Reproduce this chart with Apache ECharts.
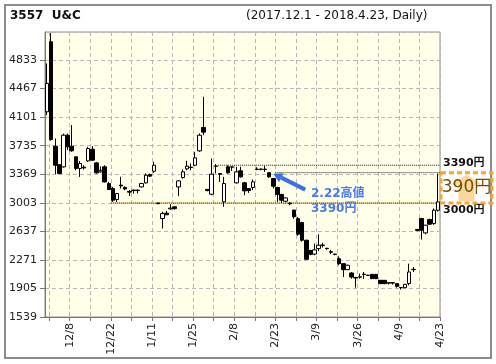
<!DOCTYPE html>
<html><head><meta charset="utf-8">
<script src="https://cdn.jsdelivr.net/npm/echarts@6/dist/echarts.min.js"></script>
<style>html,body{margin:0;padding:0;background:#fff}#c{width:496px;height:364px}</style>
</head><body><div id="c"></div>
<script>
// ---- data ----
const dates = ['12/1','12/4','12/5','12/6','12/7','12/8','12/11','12/12','12/13','12/14','12/15','12/18','12/19','12/20','12/21','12/22','12/25','12/26','12/27','12/28','12/29',
 '1/4','1/5','1/9','1/10','1/11','1/12','1/15','1/16','1/17','1/18','1/19','1/22','1/23','1/24','1/25','1/26','1/29','1/30','1/31',
 '2/1','2/2','2/5','2/6','2/7','2/8','2/9','2/13','2/14','2/15','2/16','2/19','2/20','2/21','2/22','2/23','2/26','2/27','2/28',
 '3/1','3/2','3/5','3/6','3/7','3/8','3/9','3/12','3/13','3/14','3/15','3/16','3/19','3/20','3/22','3/23','3/26','3/27','3/28','3/29','3/30',
 '4/2','4/3','4/4','4/5','4/6','4/9','4/10','4/11','4/12','4/13','4/16','4/17','4/18','4/19','4/20','4/23'];
const opens  = [4170,5068,3729,3490,3464,3870,3729,3592,3443,3460,3541,3690,3515,3400,3464,3250,3186,3045,3230,3200,3150,
 3165,3165,3207,3259,3366,3408,3000,2801,2870,2925,2951,3207,3327,3438,3455,3485,3669,3969,3175,
 3113,3470,3378,3015,3464,3460,3259,3413,3259,3186,3199,3430,3432,3430,3390,3314,3199,3109,3024,
 3000,2910,2800,2750,2523,2390,2345,2416,2462,2420,2376,2345,2287,2223,2146,2103,2045,2050,2084,2075,2086,
 2086,2009,2009,1978,1978,1967,1918,1915,1967,2146,2660,2801,2617,2789,2737,2908];
const closes = [4534,3815,3485,3378,3870,3721,3670,3443,3507,3450,3699,3550,3387,3420,3271,3173,3036,3122,3220,3180,3140,
 3160,3160,3250,3357,3345,3485,2992,2865,2850,2935,2929,3284,3400,3473,3460,3580,3870,3909,3160,
 3370,3475,3368,3250,3387,3464,3400,3336,3156,3160,3272,3435,3436,3435,3336,3216,3109,3036,3066,
 2990,2825,2600,2523,2279,2343,2400,2459,2456,2416,2370,2340,2223,2146,2202,2052,2040,2054,2088,2072,2031,
 2031,1967,1967,1975,1975,1932,1915,1958,2116,2150,2650,2652,2716,2729,2908,3015];
const lows   = [4127,3798,3370,3370,3455,3680,3657,3420,3335,3430,3528,3541,3378,3390,3265,3170,3015,3015,3186,3165,3090,
 3120,3125,3200,3250,3335,3387,2985,2673,2845,2915,2915,3088,3314,3421,3421,3473,3657,3870,3150,
 3100,3380,3271,2951,3378,3413,3250,3327,3100,3130,3165,3420,3420,3400,3323,3186,3015,3000,3010,
 2972,2800,2580,2505,2270,2330,2330,2386,2430,2400,2345,2330,2202,2052,2140,2030,1915,2030,2030,2065,2025,
 2025,1960,1960,1955,1955,1915,1890,1910,1945,2116,2640,2532,2600,2720,2720,2890];
const highs  = [4790,5180,3828,3500,3890,3890,4000,3600,3540,3485,3720,3730,3528,3470,3485,3270,3207,3130,3336,3215,3165,
 3175,3175,3258,3379,3379,3528,3003,2890,2900,2985,2960,3293,3430,3541,3507,3657,3892,4362,3180,
 3571,3500,3380,3336,3485,3470,3464,3464,3272,3190,3302,3460,3440,3477,3390,3323,3207,3120,3070,
 3003,2915,2822,2760,2530,2400,2480,2600,2490,2425,2400,2350,2317,2223,2210,2115,2055,2095,2116,2080,2090,
 2090,2012,2012,1980,1980,1970,1920,1962,2223,2180,2670,2810,2720,2800,2930,3379];
const yMin = 1539, yStep = 366, yMax = 5193;
const resistLevel = 3485, highLevel = 3390, supportLevel = 3000;
const titleLeft = '3557  U\u0026C';
const titleRight = '(2017.12.1 - 2018.4.23, Daily)';

const FONT = '"DejaVu Sans", Verdana, "Noto Sans CJK JP", sans-serif';
const JFONT = '"DejaVu Sans", "Noto Sans CJK JP", sans-serif';
const candles = dates.map((d, i) => [opens[i], closes[i], lows[i], highs[i]]);
const bounds = [''].concat(dates); // boundary k = right edge of day k-1
const dotted = (color) => ({color: color, width: 1, type: [1, 1]});

const chart = echarts.init(document.getElementById('c'), null, {renderer: 'canvas'});
const option = {
  animation: false,
  backgroundColor: '#fff',
  grid: {left: 45, right: 56, top: 32, bottom: 47, show: true, backgroundColor: '#FFFFEA', borderColor: '#8c8c8c', borderWidth: 1},
  xAxis: [
    {type: 'category', data: dates, boundaryGap: true, position: 'bottom',
     axisLine: {show: false}, axisTick: {show: false}, axisLabel: {show: false}, splitLine: {show: false}},
    {type: 'category', data: bounds, boundaryGap: false, position: 'bottom',
     axisLine: {show: true, lineStyle: {color: '#777'}},
     axisTick: {show: true, length: 4, interval: (k) => k % 5 === 1, lineStyle: {color: '#777'}},
     axisLabel: {interval: (k) => k > 0 && (k - 1) % 10 === 5, rotate: 90, margin: 6, fontSize: 11, fontFamily: FONT, color: '#222'},
     splitLine: {show: true, interval: (k) => k % 5 === 1, lineStyle: {color: '#b8b8b8', type: [4, 3]}}}
  ],
  yAxis: {type: 'value', min: yMin, max: yMax, interval: yStep,
    axisLine: {show: true, lineStyle: {color: '#777'}},
    axisTick: {show: true, length: 5, lineStyle: {color: '#777'}},
    axisLabel: {showMaxLabel: false, margin: 8, fontSize: 11, fontFamily: FONT, color: '#222', formatter: (v) => String(v)},
    splitLine: {show: true, lineStyle: {color: '#b8b8b8', type: [4, 3]}}},
  series: [
    {type: 'candlestick', xAxisIndex: 0, data: candles, barWidth: 4,
     itemStyle: {color: '#fff', color0: '#000', borderColor: '#000', borderColor0: '#000', borderColorDoji: '#000', borderWidth: 1}},
    {type: 'line', xAxisIndex: 1, symbol: 'none', silent: true, data: [[42, resistLevel], [96, resistLevel]], lineStyle: dotted('#222'), z: 1},
    {type: 'line', xAxisIndex: 1, symbol: 'none', silent: true, data: [[56, highLevel], [96, highLevel]], lineStyle: dotted('#222'), z: 1},
    {type: 'line', xAxisIndex: 1, symbol: 'none', silent: true, data: [[16, supportLevel], [96, supportLevel]], lineStyle: {color: '#f8d070', width: 1}, z: 1},
    {type: 'line', xAxisIndex: 1, symbol: 'none', silent: true, data: [[16, supportLevel], [96, supportLevel]], lineStyle: dotted('#222'), z: 1}
  ]
};
chart.setOption(option);

const p = (k, v) => chart.convertToPixel({xAxisIndex: 1, yAxisIndex: 0}, [k, v]);
const pc = (i, v) => chart.convertToPixel({xAxisIndex: 0, yAxisIndex: 0}, [i, v]);
const pHi = p(96, highLevel), pSu = p(96, supportLevel);
const boxX = pHi[0] + 1, boxY = pHi[1], boxW = 51, boxH = pSu[1] - pHi[1];
const tip = pc(54, highs[54]);
const tipX = tip[0] + 4, tipY = tip[1] + 1;
const tailX = tipX + 32, tailY = tipY + 16;
const ang = Math.atan2(tailY - tipY, tailX - tipX);
const ah = 9, aw = 5;
const bx = tipX + ah * Math.cos(ang), by = tipY + ah * Math.sin(ang);
const nx = -Math.sin(ang), ny = Math.cos(ang);
const cx = boxX + boxW / 2, cy = boxY + boxH / 2;

chart.setOption({graphic: [
  {type: 'rect', z: -1, shape: {x: 5, y: 5, width: 486, height: 353}, style: {fill: 'none', stroke: '#8c8c8c', lineWidth: 2}},
  {type: 'text', x: 10, y: 10, style: {text: titleLeft, font: 'bold 12px ' + FONT, fill: '#111'}},
  {type: 'text', x: 246, y: 10, style: {text: titleRight, font: '12px ' + FONT, fill: '#111'}},
  {type: 'text', x: 443, y: pHi[1] - 15, style: {text: highLevel + '円', font: 'bold 11px ' + JFONT, fill: '#111'}},
  {type: 'text', x: 443, y: pSu[1] + 2, style: {text: supportLevel + '円', font: 'bold 11px ' + JFONT, fill: '#111'}},
  {type: 'polygon', shape: {points: [[cx, boxY + 2], [cx + 16, cy - 3], [cx + 8, cy - 3], [cx + 8, boxY + boxH - 2], [cx - 8, boxY + boxH - 2], [cx - 8, cy - 3], [cx - 16, cy - 3]]},
   style: {fill: 'rgba(250,175,60,0.5)'}},
  {type: 'rect', shape: {x: boxX, y: boxY, width: boxW, height: boxH}, style: {fill: 'none', stroke: '#f5a530', lineWidth: 3, lineDash: [5, 3]}},
  {type: 'text', x: cx, y: cy, style: {text: (highLevel - supportLevel) + '円', font: '17px ' + JFONT, fill: '#6e5200', align: 'center', verticalAlign: 'middle'}},
  {type: 'line', shape: {x1: bx, y1: by, x2: tailX, y2: tailY}, style: {stroke: '#3d6fe8', lineWidth: 4}},
  {type: 'polygon', shape: {points: [[tipX, tipY], [bx + nx * aw, by + ny * aw], [bx - nx * aw, by - ny * aw]]}, style: {fill: '#3d6fe8'}},
  {type: 'text', x: 311, y: 188, style: {text: '2.22高値', font: 'bold 12px ' + JFONT, fill: '#4a78f0'}},
  {type: 'text', x: 311, y: 203, style: {text: highLevel + '円', font: 'bold 12px ' + JFONT, fill: '#4a78f0'}}
]});
</script>
</body></html>
